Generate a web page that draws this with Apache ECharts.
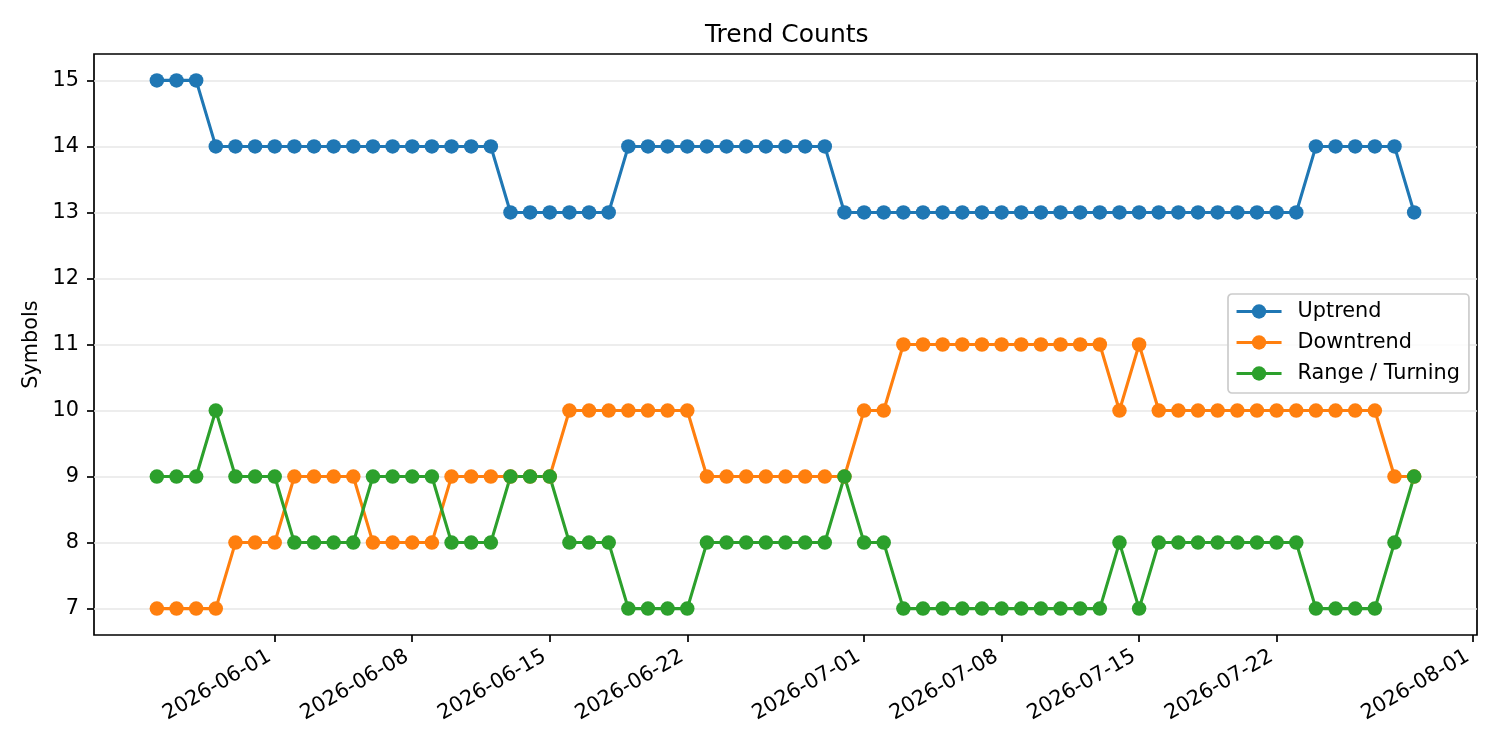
<!DOCTYPE html>
<html>
<head>
<meta charset="utf-8">
<title>Trend Counts</title>
<script src="https://cdn.jsdelivr.net/npm/echarts@6.0.0/dist/echarts.min.js"></script>
<style>
    html, body { margin: 0; padding: 0; background: #fff; }
    #main { width: 1500px; height: 750px; }
</style>
</head>
<body>
<div id="main"></div>
<script>
// daily dates (x axis)
var dates = [
    "2026-05-26", "2026-05-27", "2026-05-28", "2026-05-29", "2026-05-30", "2026-05-31",
    "2026-06-01", "2026-06-02", "2026-06-03", "2026-06-04", "2026-06-05", "2026-06-06", "2026-06-07",
    "2026-06-08", "2026-06-09", "2026-06-10", "2026-06-11", "2026-06-12", "2026-06-13", "2026-06-14",
    "2026-06-15", "2026-06-16", "2026-06-17", "2026-06-18", "2026-06-19", "2026-06-20", "2026-06-21",
    "2026-06-22", "2026-06-23", "2026-06-24", "2026-06-25", "2026-06-26", "2026-06-27", "2026-06-28",
    "2026-06-29", "2026-06-30",
    "2026-07-01", "2026-07-02", "2026-07-03", "2026-07-04", "2026-07-05", "2026-07-06", "2026-07-07",
    "2026-07-08", "2026-07-09", "2026-07-10", "2026-07-11", "2026-07-12", "2026-07-13", "2026-07-14",
    "2026-07-15", "2026-07-16", "2026-07-17", "2026-07-18", "2026-07-19", "2026-07-20", "2026-07-21",
    "2026-07-22", "2026-07-23", "2026-07-24", "2026-07-25", "2026-07-26", "2026-07-27", "2026-07-28",
    "2026-07-29"
];

var uptrend = [
    15, 15, 15, 14, 14, 14, 14, 14, 14, 14,
    14, 14, 14, 14, 14, 14, 14, 14, 13, 13,
    13, 13, 13, 13, 14, 14, 14, 14, 14, 14,
    14, 14, 14, 14, 14, 13, 13, 13, 13, 13,
    13, 13, 13, 13, 13, 13, 13, 13, 13, 13,
    13, 13, 13, 13, 13, 13, 13, 13, 13, 14,
    14, 14, 14, 14, 13
];

var downtrend = [
    7, 7, 7, 7, 8, 8, 8, 9, 9, 9,
    9, 8, 8, 8, 8, 9, 9, 9, 9, 9,
    9, 10, 10, 10, 10, 10, 10, 10, 9, 9,
    9, 9, 9, 9, 9, 9, 10, 10, 11, 11,
    11, 11, 11, 11, 11, 11, 11, 11, 11, 10,
    11, 10, 10, 10, 10, 10, 10, 10, 10, 10,
    10, 10, 10, 9, 9
];

var rangeTurning = [
    9, 9, 9, 10, 9, 9, 9, 8, 8, 8,
    8, 9, 9, 9, 9, 8, 8, 8, 9, 9,
    9, 8, 8, 8, 7, 7, 7, 7, 8, 8,
    8, 8, 8, 8, 8, 9, 8, 8, 7, 7,
    7, 7, 7, 7, 7, 7, 7, 7, 7, 8,
    7, 8, 8, 8, 8, 8, 8, 8, 8, 7,
    7, 7, 7, 8, 9
];

var seriesNames = ["Uptrend", "Downtrend", "Range / Turning"];
var seriesColors = ["#1f77b4", "#ff7f0e", "#2ca02c"];
var xTickLabels = ["2026-06-01", "2026-06-08", "2026-06-15", "2026-06-22",
    "2026-07-01", "2026-07-08", "2026-07-15", "2026-07-22", "2026-08-01"];
var yTicks = [7, 8, 9, 10, 11, 12, 13, 14, 15];

var FONT = "DejaVu Sans";

function toTime(s) {
    var p = s.split("-");
    return new Date(+p[0], +p[1] - 1, +p[2]).getTime();
}

function pad2(n) {
    return n < 10 ? "0" + n : "" + n;
}

function fmtDate(v) {
    var d = new Date(v);
    return d.getFullYear() + "-" + pad2(d.getMonth() + 1) + "-" + pad2(d.getDate());
}

function pairs(vals) {
    var out = [];
    for (var i = 0; i < dates.length; i++) {
        out.push([toTime(dates[i]), vals[i]]);
    }
    return out;
}

// 5% margins like matplotlib
var t0 = toTime(dates[0]);
var t1 = toTime(dates[dates.length - 1]);
var xPad = (t1 - t0) * 0.05;
var allVals = uptrend.concat(downtrend, rangeTurning);
var yLo = Math.min.apply(null, allVals);
var yHi = Math.max.apply(null, allVals);
var yPad = (yHi - yLo) * 0.05;

var tickTimes = xTickLabels.map(toTime);

var chart = echarts.init(document.getElementById("main"));

var seriesData = [uptrend, downtrend, rangeTurning];
var series = [];
for (var k = 0; k < seriesData.length; k++) {
    series.push({
        name: seriesNames[k],
        type: "line",
        data: pairs(seriesData[k]),
        symbol: "circle",
        symbolSize: 14.5,
        showSymbol: true,
        showAllSymbol: true,
        color: seriesColors[k],
        lineStyle: { width: 3.1, color: seriesColors[k] },
        itemStyle: { color: seriesColors[k] },
        emphasis: { disabled: true }
    });
}

chart.setOption({
    animation: false,
    backgroundColor: "#fff",
    textStyle: { fontFamily: FONT },
    title: {
        text: "Trend Counts",
        left: 705,
        top: 23,
        padding: 0,
        textStyle: { fontFamily: FONT, fontSize: 25, fontWeight: "normal", color: "#000" }
    },
    legend: {
        orient: "vertical",
        left: 1228,
        top: 294,
        padding: [7, 9, 9, 7],
        itemWidth: 45,
        itemHeight: 18,
        itemGap: 10,
        backgroundColor: "rgba(255,255,255,0.8)",
        borderColor: "#cccccc",
        borderWidth: 1.7,
        borderRadius: 4,
        lineStyle: { width: 3.1 },
        textStyle: {
            fontFamily: FONT, fontSize: 20.8, color: "#000",
            lineHeight: 21, padding: [0, 0, 0, 11]
        },
        data: seriesNames
    },
    grid: {
        left: 94,
        right: 23,
        top: 54,
        bottom: 115,
        containLabel: false,
        outerBoundsMode: "none",
        show: true,
        borderColor: "#000",
        borderWidth: 1.7,
        backgroundColor: "transparent"
    },
    xAxis: {
        type: "value",
        min: t0 - xPad,
        max: t1 + xPad,
        scale: true,
        axisLine: { show: false },
        splitLine: { show: false },
        axisTick: {
            show: true,
            customValues: tickTimes,
            length: 7,
            lineStyle: { color: "#000", width: 1.7 }
        },
        axisLabel: {
            customValues: tickTimes,
            rotate: 30,
            margin: 17,
            padding: [0, 6, 0, 0],
            fontFamily: FONT,
            fontSize: 20.8,
            color: "#000",
            formatter: fmtDate
        }
    },
    yAxis: {
        type: "value",
        min: yLo - yPad,
        max: yHi + yPad,
        name: "Symbols",
        nameLocation: "middle",
        nameGap: 47,
        nameTextStyle: { fontFamily: FONT, fontSize: 20.8, color: "#000" },
        axisLine: { show: false },
        axisTick: {
            show: true,
            customValues: yTicks,
            length: 7,
            lineStyle: { color: "#000", width: 1.7 }
        },
        axisLabel: {
            customValues: yTicks,
            margin: 15,
            fontFamily: FONT,
            fontSize: 20.8,
            color: "#000"
        },
        splitLine: {
            show: true,
            lineStyle: { color: "#e7e7e7", width: 1.7 }
        }
    },
    series: series
});
</script>
</body>
</html>
